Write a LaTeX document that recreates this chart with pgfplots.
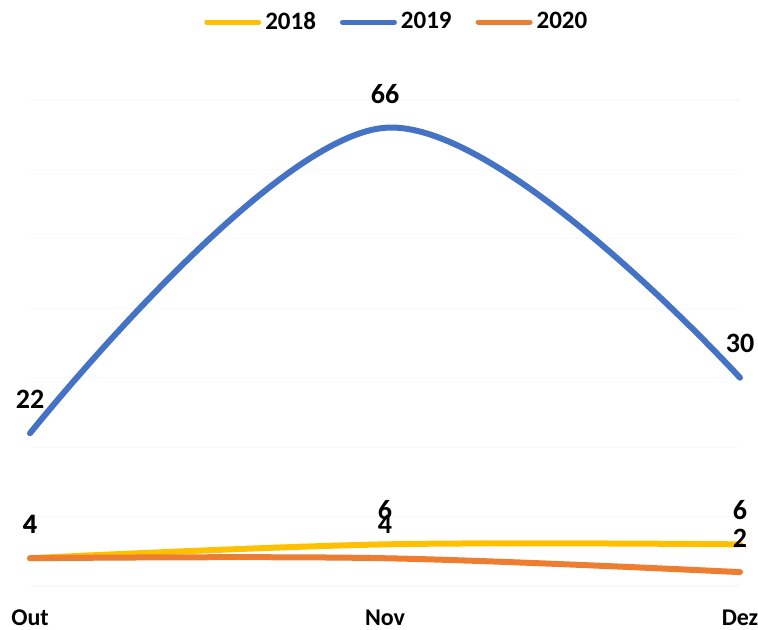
\documentclass[border=0pt]{standalone}
\usepackage{pgfplots}
\pgfplotsset{compat=1.18}
\usepackage{fontspec}
\setmainfont{Carlito}
\definecolor{c2018}{HTML}{FFC000}
\definecolor{c2019}{HTML}{4472C4}
\definecolor{c2020}{HTML}{ED7D31}
\begin{document}
\begin{tikzpicture}
\begin{axis}[
  at={(0,0)}, anchor=south west,
  scale only axis, width=355pt, height=243pt,
  xmin=0, xmax=2, ymin=0, ymax=70,
  clip=false,
  axis line style={draw=none},
  tick style={draw=none},
  xtick={0,1,2},
  xticklabels={Out,Nov,Dez},
  xticklabel style={font=\fontsize{12}{14}\selectfont\bfseries, anchor=north, yshift=-8.5pt},
  ytick={0,10,...,70},
  yticklabels={},
  ymajorgrids,
  major grid style={black!2.5, line width=0.6pt},
  /pgf/number format/assume math mode=true,
  nodes near coords,
  every node near coord/.append style={font=\fontsize{14}{16}\selectfont\bfseries, anchor=center, yshift=17pt, text=black},
  legend columns=3,
  legend style={at={(0.518,1.160)}, anchor=center, draw=none, fill=none,
    font=\fontsize{12.5}{14}\selectfont\bfseries, inner sep=0pt,
    /tikz/every even column/.append style={column sep=10pt}},
  legend image code/.code={\draw[#1, line width=2.5pt, line cap=round] (0pt,0pt) -- (26pt,0pt);},
]
\addplot[color=c2018, line width=3pt, line cap=round, smooth, tension=0.6] coordinates {(0,4) (1,6) (2,6)};
\addlegendentry{2018}
\addplot[color=c2019, line width=3pt, line cap=round, smooth, tension=0.6] coordinates {(0,22) (1,66) (2,30)};
\addlegendentry{2019}
\addplot[color=c2020, line width=3pt, line cap=round, smooth, tension=0.6] coordinates {(0,4) (1,4) (2,2)};
\addlegendentry{2020}
\path (axis cs:0,0) coordinate (O);
\end{axis}
\pgfresetboundingbox
\path ([shift={(-15pt,-21.5pt)}]O) rectangle ([shift={(364pt,293pt)}]O);
\end{tikzpicture}
\end{document}
